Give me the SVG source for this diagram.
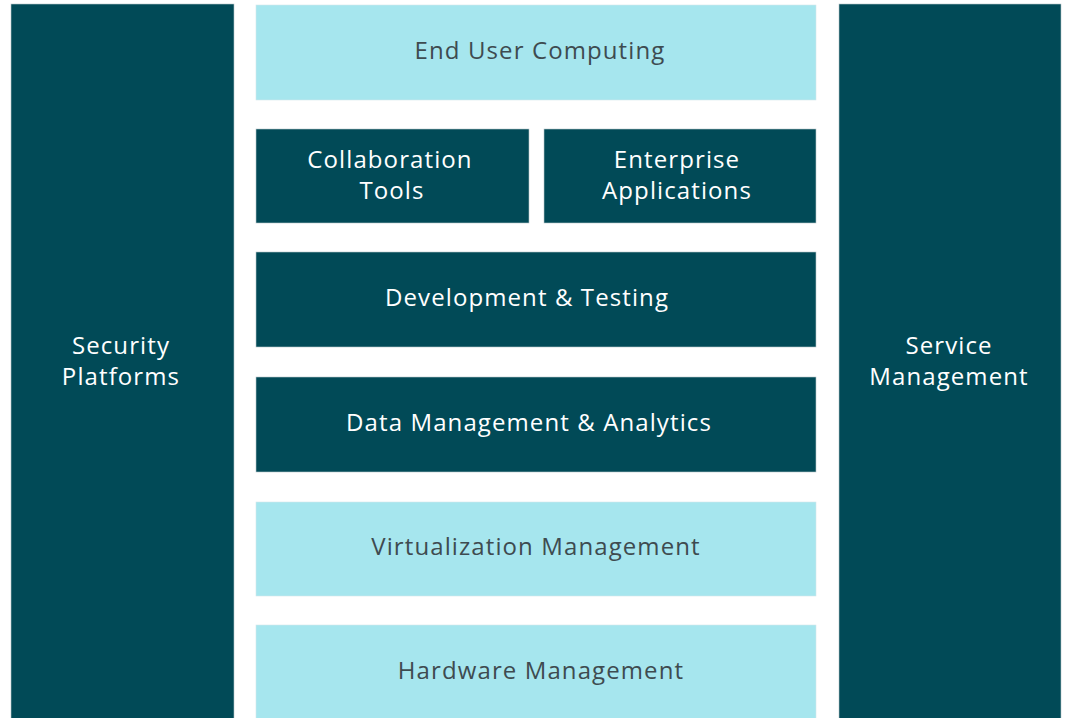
<svg xmlns="http://www.w3.org/2000/svg" width="1066" height="718" viewBox="0 0 1066 718">
<style>
.dk{fill:#014a57;stroke:#b9c6ca;stroke-width:0.6}
.lt{fill:#a6e6ee;stroke:#d4e6ea;stroke-width:0.6}
text{font-family:"Open Sans",Lato,"Liberation Sans",sans-serif;font-size:24px;letter-spacing:1.1px;text-anchor:middle}
.tw{fill:#ffffff}
.td{fill:#3e4b50}
</style>
<rect width="1066" height="718" fill="#ffffff"/>
<g id="security-platforms"><rect class="dk" x="11" y="4" width="223" height="716"/><text class="tw" x="121" y="354">Security</text><text class="tw" x="121" y="385">Platforms</text></g>
<g id="service-management"><rect class="dk" x="839" y="4" width="222" height="716"/><text class="tw" x="949" y="354">Service</text><text class="tw" x="949" y="385">Management</text></g>
<g id="end-user-computing"><rect class="lt" x="256" y="5" width="560" height="95"/><text class="td" x="540" y="59">End User Computing</text></g>
<g id="collaboration-tools"><rect class="dk" x="256" y="129" width="273" height="94"/><text class="tw" x="390" y="168">Collaboration</text><text class="tw" x="392" y="199">Tools</text></g>
<g id="enterprise-applications"><rect class="dk" x="544" y="129" width="272" height="94"/><text class="tw" x="677" y="168">Enterprise</text><text class="tw" x="677" y="199">Applications</text></g>
<g id="development-testing"><rect class="dk" x="256" y="252" width="560" height="95"/><text class="tw" x="527" y="306">Development &amp; Testing</text></g>
<g id="data-management-analytics"><rect class="dk" x="256" y="377" width="560" height="95"/><text class="tw" x="529" y="431">Data Management &amp; Analytics</text></g>
<g id="virtualization-management"><rect class="lt" x="256" y="502" width="560" height="94"/><text class="td" x="536" y="555">Virtualization Management</text></g>
<g id="hardware-management"><rect class="lt" x="256" y="625" width="560" height="95"/><text class="td" x="541" y="679">Hardware Management</text></g>
<g id="connectors"></g>
</svg>
